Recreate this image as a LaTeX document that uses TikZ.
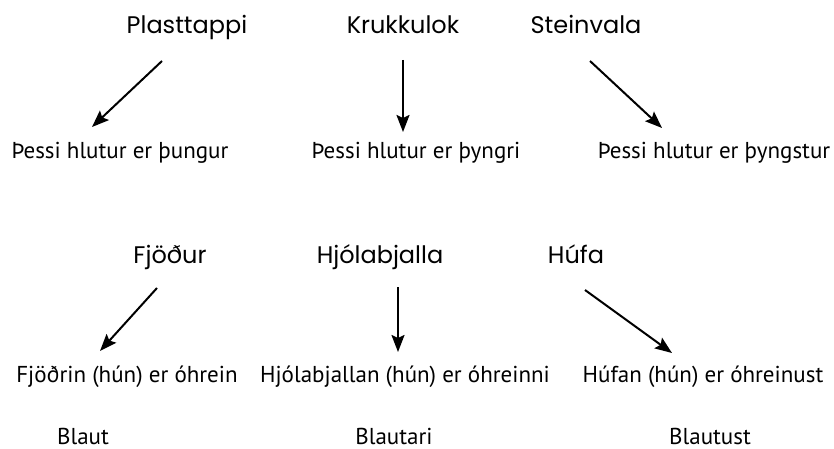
\documentclass[tikz,border=0pt]{standalone}
\usepackage{fontspec}
\setmainfont{PT Sans}
\newfontfamily\comicfont{Poppins}
\usetikzlibrary{arrows.meta}
\tikzset{
  objlabel/.style={anchor=base, inner sep=0pt, font=\comicfont\fontsize{24}{28}\selectfont},
  desclabel/.style={anchor=base, inner sep=0pt, font=\fontsize{23}{27}\selectfont},
  conn/.style={line width=2pt, -{Stealth[length=17pt,width=13pt,inset=3pt]}}
}
\begin{document}
\begin{tikzpicture}[x=1pt,y=-1pt]
\useasboundingbox (0,0) rectangle (834,449);
% top row
\node[objlabel] (plast) at (187,34) {Plasttappi};
\node[objlabel] (kruk) at (403,34) {Krukkulok};
\node[objlabel] (stein) at (586,34) {Steinvala};
\node[desclabel] (d1) at (120,159) {Þessi hlutur er þungur};
\node[desclabel] (d2) at (416,159) {Þessi hlutur er þyngri};
\node[desclabel] (d3) at (714,159) {Þessi hlutur er þyngstur};
\coordinate (a1s) at (162,61); \coordinate (a1e) at (92,127);
\coordinate (a2s) at (403,60); \coordinate (a2e) at (403,132);
\coordinate (a3s) at (590,61); \coordinate (a3e) at (662,128);
\draw[conn] (a1s) -- (a1e);
\draw[conn] (a2s) -- (a2e);
\draw[conn] (a3s) -- (a3e);
% bottom row
\node[objlabel] (fjod) at (170,263) {Fjöður};
\node[objlabel] (hjol) at (380,263) {Hjólabjalla};
\node[objlabel] (hufa) at (576,263) {Húfa};
\node[desclabel] (e1) at (127,382) {Fjöðrin (hún) er óhrein};
\node[desclabel] (e2) at (405,382) {Hjólabjallan (hún) er óhreinni};
\node[desclabel] (e3) at (703,382) {Húfan (hún) er óhreinust};
\node[desclabel, text depth=0pt] (b1) at (83,444) {Blaut};
\node[desclabel, text depth=0pt] (b2) at (394,444) {Blautari};
\node[desclabel, text depth=0pt] (b3) at (710,444) {Blautust};
\coordinate (a4s) at (157,288); \coordinate (a4e) at (100,351);
\coordinate (a5s) at (398,287); \coordinate (a5e) at (398,352);
\coordinate (a6s) at (585,290); \coordinate (a6e) at (672,353);
\draw[conn] (a4s) -- (a4e);
\draw[conn] (a5s) -- (a5e);
\draw[conn] (a6s) -- (a6e);
\end{tikzpicture}
\end{document}
